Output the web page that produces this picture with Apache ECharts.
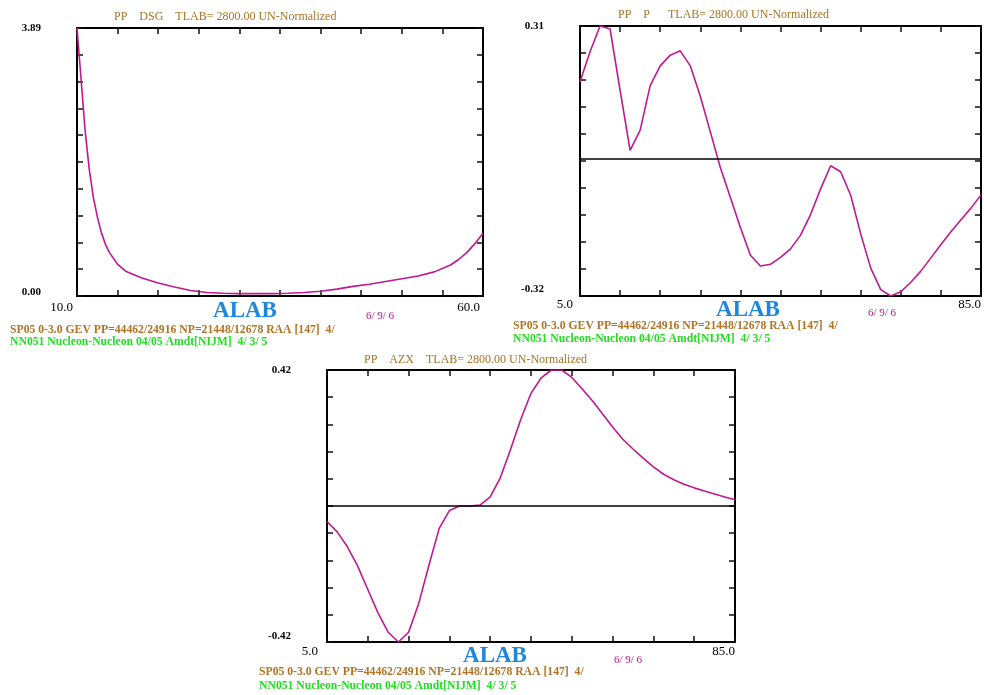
<!DOCTYPE html>
<html>
<head>
<meta charset="utf-8">
<script src="https://cdn.jsdelivr.net/npm/echarts@6/dist/echarts.min.js"></script>
<style>
html,body{margin:0;padding:0;background:#fff;}
#main{width:984px;height:695px;}
</style>
</head>
<body>
<div id="main"></div>
<script>
// ---- Data ----
var dsgX = [10,10.5,11,11.5,12,12.5,13,13.5,14,15,16,17,18,20,22,24,26,28,30,32,34,36,38,40,42,44,46,48,50,52,54,56,57,58,59,60];
var dsgY = [3.89,3.15,2.40,1.85,1.44,1.15,0.92,0.75,0.63,0.46,0.36,0.31,0.26,0.19,0.13,0.08,0.05,0.04,0.035,0.035,0.035,0.04,0.05,0.07,0.10,0.14,0.17,0.21,0.25,0.29,0.35,0.45,0.53,0.63,0.76,0.91];

var pX = [5,7,9,11,13,15,17,19,21,23,25,27,29,31,33,35,37,39,41,43,45,47,49,51,53,55,57,59,61,63,65,67,69,71,73,75,77,79,81,83,85];
var pY = [0.18,0.25,0.31,0.303,0.16,0.02,0.067,0.171,0.217,0.242,0.252,0.217,0.146,0.063,-0.02,-0.09,-0.16,-0.225,-0.25,-0.246,-0.23,-0.21,-0.178,-0.13,-0.07,-0.016,-0.03,-0.085,-0.175,-0.255,-0.305,-0.32,-0.31,-0.288,-0.262,-0.231,-0.2,-0.17,-0.142,-0.115,-0.084];

var azxX = [5,7,9,11,13,15,17,19,21,23,25,27,29,31,33,35,37,39,41,43,45,47,49,51,53,55,57,59,61,63,65,67,69,71,73,75,77,79,81,83,85];
var azxY = [-0.048,-0.08,-0.126,-0.185,-0.258,-0.33,-0.39,-0.42,-0.39,-0.30,-0.182,-0.069,-0.014,0.0,0.0,0.003,0.028,0.088,0.175,0.268,0.348,0.396,0.42,0.42,0.397,0.362,0.326,0.285,0.244,0.206,0.176,0.148,0.121,0.098,0.081,0.067,0.056,0.046,0.037,0.028,0.019];

// axis ranges / tick labels
var xRange1 = [10, 60], yRange1 = [0, 3.89];
var xRange2 = [5, 85],  yRange2 = [-0.32, 0.31];
var xRange3 = [5, 85],  yRange3 = [-0.42, 0.42];
var xLabels1 = ['10.0','60.0'], yLabels1 = ['0.00','3.89'];
var xLabels2 = ['5.0','85.0'],  yLabels2 = ['-0.32','0.31'];
var xLabels3 = ['5.0','85.0'],  yLabels3 = ['-0.42','0.42'];

var titles = ['PP    DSG    TLAB= 2800.00 UN-Normalized',
              'PP    P      TLAB= 2800.00 UN-Normalized',
              'PP    AZX    TLAB= 2800.00 UN-Normalized'];
var xName = 'ALAB';
var dateText = '6/ 9/ 6';
var footer1 = 'SP05 0-3.0 GEV PP=44462/24916 NP=21448/12678 RAA [147]  4/';
var footer2 = 'NN051 Nucleon-Nucleon 04/05 Amdt[NIJM]  4/ 3/ 5';

// ---- Layout ----
var panels = [
  {grid:{left:77, top:28, width:406, height:268}, xr:xRange1, yr:yRange1, xl:xLabels1, yl:yLabels1, xs:dsgX, ys:dsgY, zero:false,
   xMargin:5, xPad:[4,3], yLoPad:8,
   title:[114,17], alab:[245,311], date:[380,316], foot:[10,330,342]},
  {grid:{left:580, top:26, width:403, height:270}, xr:xRange2, yr:yRange2, xl:xLabels2, yl:yLabels2, xs:pX, ys:pY, zero:true,
   xMargin:2.5, xPad:[7,0], yLoPad:13,
   title:[618,15], alab:[748,310], date:[882,313], foot:[513,326,339]},
  {grid:{left:327, top:370, width:408, height:272}, xr:xRange3, yr:yRange3, xl:xLabels3, yl:yLabels3, xs:azxX, ys:azxY, zero:true,
   xMargin:3.5, xPad:[9,0], yLoPad:12,
   title:[364,360], alab:[495,656], date:[628,660], foot:[259,672,686]}
];

var SERIF = '"Liberation Serif", "DejaVu Serif", serif';
var LINE = '#c2188e';

function ticks(r, n){ var a=[]; for(var i=0;i<=n;i++){ a.push(r[0]+(r[1]-r[0])*i/n); } return a; }

var grids=[], xAxes=[], yAxes=[], series=[], graphics=[];
panels.forEach(function(p, gi){
  grids.push(p.grid);
  var xt = ticks(p.xr, 10), yt = ticks(p.yr, 10);
  var axLine = {show:true, onZero:false, lineStyle:{color:'#000', width:2}};
  var tick = {show:true, inside:true, length:6, lineStyle:{color:'#111', width:1.5}, customValues:xt};
  // bottom x
  xAxes.push({type:'value', gridIndex:gi, position:'bottom', min:p.xr[0], max:p.xr[1],
    axisLine:axLine, axisTick:tick, splitLine:{show:false},
    axisLabel:{show:true, customValues:[p.xr[0], p.xr[1]], margin:p.xMargin, align:'right',
      fontFamily:SERIF, fontSize:13, color:'#000',
      formatter:function(v){ return Math.abs(v-p.xr[0])<1e-9 ? '{lo|'+p.xl[0]+'}' : '{hi|'+p.xl[1]+'}'; },
      rich:{lo:{fontFamily:SERIF, fontSize:13, color:'#000', padding:[0,p.xPad[0],0,0]},
            hi:{fontFamily:SERIF, fontSize:13, color:'#000', padding:[0,p.xPad[1],0,0]}}}
  });
  // top x
  xAxes.push({type:'value', gridIndex:gi, position:'top', min:p.xr[0], max:p.xr[1],
    axisLine:axLine, axisTick:tick, splitLine:{show:false}, axisLabel:{show:false}});
  var ytick = {show:true, inside:true, length:6, lineStyle:{color:'#111', width:1.5}, customValues:yt};
  // left y
  yAxes.push({type:'value', gridIndex:gi, position:'left', min:p.yr[0], max:p.yr[1],
    axisLine:{show:true, onZero:false, lineStyle:{color:'#000', width:2}}, axisTick:ytick, splitLine:{show:false},
    axisLabel:{show:true, customValues:[p.yr[0], p.yr[1]], margin:36, align:'right',
      fontFamily:SERIF, fontSize:11, fontWeight:'bold', color:'#000',
      formatter:function(v){ return Math.abs(v-p.yr[0])<1e-9 ? '{lo|'+p.yl[0]+'}' : '{hi|'+p.yl[1]+'}'; },
      rich:{lo:{fontFamily:SERIF, fontSize:11, fontWeight:'bold', color:'#000', padding:[0,0,p.yLoPad,0]},
            hi:{fontFamily:SERIF, fontSize:11, fontWeight:'bold', color:'#000'}}}
  });
  // right y
  yAxes.push({type:'value', gridIndex:gi, position:'right', min:p.yr[0], max:p.yr[1],
    axisLine:{show:true, onZero:false, lineStyle:{color:'#000', width:2}}, axisTick:ytick, splitLine:{show:false}, axisLabel:{show:false}});

  var data = p.xs.map(function(x,i){ return [x, p.ys[i]]; });
  var s = {type:'line', xAxisIndex:gi*2, yAxisIndex:gi*2, data:data, showSymbol:false, symbol:'none',
    lineStyle:{color:LINE, width:1.6}, z:3, animation:false, silent:true};
  if(p.zero){
    s.markLine = {silent:true, symbol:['none','none'], animation:false, label:{show:false},
      lineStyle:{color:'#000', width:1.5, type:'solid'}, data:[{yAxis:0}]};
  }
  series.push(s);

  graphics.push({type:'text', x:p.title[0], y:p.title[1], silent:true,
    style:{text:titles[gi], font:'12px '+SERIF, fill:'#a87424', align:'left', verticalAlign:'middle', textAlign:'left', textVerticalAlign:'middle'}});
  graphics.push({type:'text', x:p.alab[0], y:p.alab[1], silent:true,
    style:{text:xName, font:'bold 23px '+SERIF, fill:'#1e86dc', align:'center', verticalAlign:'middle', textAlign:'center', textVerticalAlign:'middle'}});
  graphics.push({type:'text', x:p.date[0], y:p.date[1], silent:true,
    style:{text:dateText, font:'11px '+SERIF, fill:'#b8178a', align:'center', verticalAlign:'middle', textAlign:'center', textVerticalAlign:'middle'}});
  graphics.push({type:'text', x:p.foot[0], y:p.foot[1], silent:true,
    style:{text:footer1, font:'bold 11.7px '+SERIF, fill:'#b07424', align:'left', verticalAlign:'middle', textAlign:'left', textVerticalAlign:'middle'}});
  graphics.push({type:'text', x:p.foot[0], y:p.foot[2], silent:true,
    style:{text:footer2, font:'bold 11.7px '+SERIF, fill:'#22dd22', align:'left', verticalAlign:'middle', textAlign:'left', textVerticalAlign:'middle'}});
});

var chart = echarts.init(document.getElementById('main'), null, {renderer:'canvas'});
chart.setOption({
  backgroundColor:'#fff',
  animation:false,
  grid:grids, xAxis:xAxes, yAxis:yAxes, series:series, graphic:graphics
});
</script>
</body>
</html>
